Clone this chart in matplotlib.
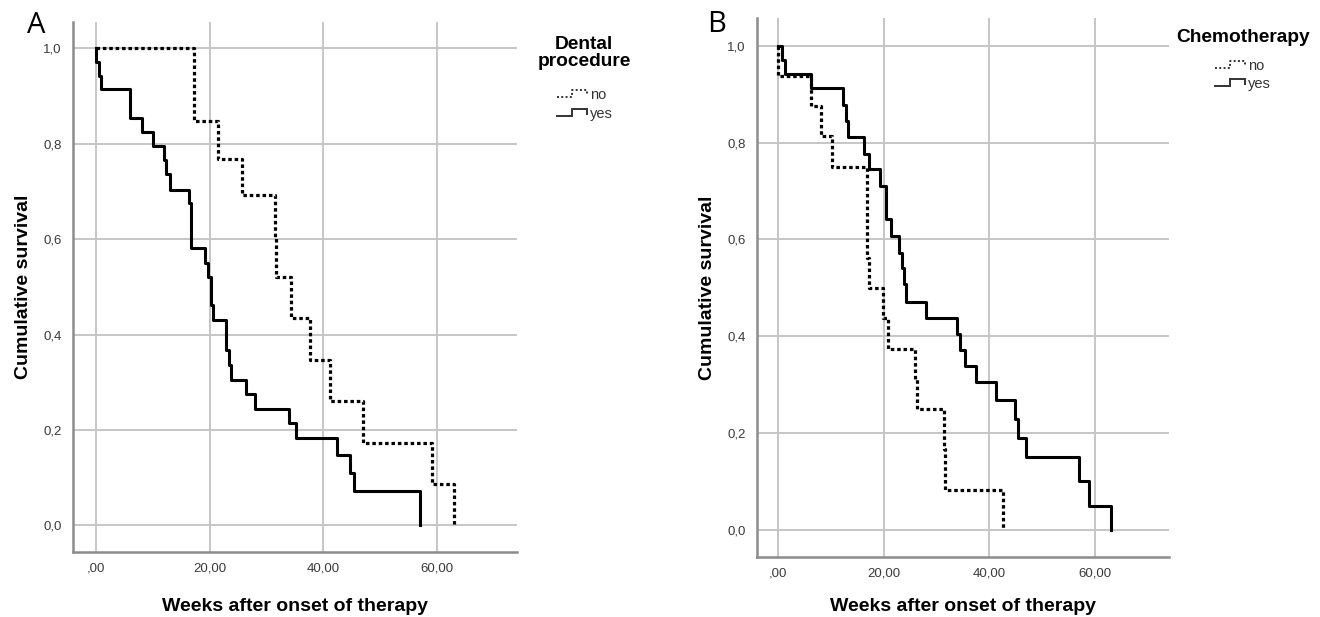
import matplotlib
matplotlib.use("Agg")
import matplotlib.pyplot as plt
from matplotlib.lines import Line2D
from matplotlib.legend_handler import HandlerBase

# ---------------- data ----------------
x_ticks = [0, 20, 40, 60]
x_tick_labels = [",00", "20,00", "40,00", "60,00"]
y_ticks = [0.0, 0.2, 0.4, 0.6, 0.8, 1.0]
y_tick_labels = ["0,0", "0,2", "0,4", "0,6", "0,8", "1,0"]

# Panel A: Dental procedure
a_no_weeks = [0, 17.2, 21.4, 25.7, 31.4, 31.6, 34.3, 37.7, 41.2, 46.9, 59.0, 63.0]
a_no_surv = [1.0, 0.848, 0.769, 0.692, 0.602, 0.520, 0.434, 0.347, 0.261, 0.173, 0.087, 0.0]
a_yes_weeks = [0, 0, 0.6, 0.9, 6.1, 8.1, 10.1, 12.0, 12.4, 13.0, 16.4, 16.8, 19.1, 19.7,
               20.2, 20.6, 22.9, 23.4, 23.8, 26.4, 28.0, 33.9, 35.1, 42.3, 44.7, 45.3, 57.0]
a_yes_surv = [1.0, 0.971, 0.943, 0.914, 0.855, 0.825, 0.796, 0.766, 0.737, 0.704, 0.675,
              0.582, 0.551, 0.521, 0.462, 0.430, 0.368, 0.337, 0.306, 0.275, 0.245, 0.215,
              0.184, 0.147, 0.110, 0.073, 0.0]

# Panel B: Chemotherapy
b_no_weeks = [0, 0, 6.3, 8.1, 10.2, 16.8, 17.3, 19.8, 20.9, 25.9, 26.3, 31.4, 31.7, 42.5]
b_no_surv = [1.0, 0.9375, 0.875, 0.8125, 0.75, 0.5625, 0.5, 0.4375, 0.375, 0.3125, 0.25,
             0.167, 0.083, 0.0]
b_yes_weeks = [0, 0.75, 1.4, 6.3, 12.4, 12.8, 13.3, 16.3, 17.3, 19.3, 20.4, 21.3, 22.9, 23.4,
               23.8, 24.2, 28.0, 33.9, 34.4, 35.3, 37.5, 41.2, 44.8, 45.4, 47.0, 57.0, 58.9, 63.1]
b_yes_surv = [1.0, 0.971, 0.942, 0.913, 0.878, 0.844, 0.811, 0.777, 0.745, 0.710, 0.642,
              0.607, 0.573, 0.542, 0.508, 0.472, 0.439, 0.405, 0.372, 0.338, 0.305, 0.268,
              0.230, 0.191, 0.152, 0.101, 0.051, 0.0]

group_labels = ["no", "yes"]
legend_titles = ["Dental\nprocedure", "Chemotherapy"]
panel_letters = ["A", "B"]
x_label = "Weeks after onset of therapy"
y_label = "Cumulative survival"

# ---------------- style ----------------
FONT = "Liberation Sans"
plt.rcParams["font.family"] = [FONT, "DejaVu Sans"]
DOT = (0, (1.1, 0.9))
GRID = "#c6c6c6"
SPINE = "#8c8c8c"
TICKC = "#3a3a3a"


class StepHandler(HandlerBase):
    def __init__(self, dotted):
        super().__init__()
        self.dotted = dotted

    def create_artists(self, legend, orig_handle, xdescent, ydescent, width, height,
                       fontsize, trans):
        x0 = -xdescent
        y0 = -ydescent + height * 0.2
        h = height * 0.7
        xs = [x0, x0 + 0.5 * width, x0 + 0.5 * width, x0 + width, x0 + width]
        ys = [y0, y0, y0 + h, y0 + h, y0 + 0.3 * h]
        ln = Line2D(xs, ys, color="#333333", lw=1.4,
                    linestyle=(0, (1.0, 1.2)) if self.dotted else "-",
                    transform=trans, solid_joinstyle="miter")
        return [ln]


fig = plt.figure(figsize=(13.2, 6.17), dpi=100)
axA = fig.add_axes([0.0553, 0.1058, 0.3364, 0.859])
axB = fig.add_axes([0.5733, 0.0972, 0.3124, 0.873])


def style_axes(ax, xlabelpad):
    ax.set_xlim(-4, 74)
    ax.set_ylim(-0.055, 1.056)
    ax.set_xticks(x_ticks)
    ax.set_xticklabels(x_tick_labels)
    ax.set_yticks(y_ticks)
    ax.set_yticklabels(y_tick_labels)
    ax.tick_params(length=0, labelsize=9.5, labelcolor=TICKC)
    ax.tick_params(axis="x", pad=7.5)
    ax.tick_params(axis="y", pad=8)
    ax.grid(True, color=GRID, lw=1.4)
    ax.set_axisbelow(True)
    for s in ["top", "right"]:
        ax.spines[s].set_visible(False)
    for s in ["left", "bottom"]:
        ax.spines[s].set_color(SPINE)
        ax.spines[s].set_linewidth(1.8)
    ax.set_xlabel(x_label, fontsize=14, fontweight="bold", labelpad=xlabelpad)
    ax.set_ylabel(y_label, fontsize=14, fontweight="bold", labelpad=8)


panels = [
    (axA, a_no_weeks, a_no_surv, a_yes_weeks, a_yes_surv,
     (0.4424, 1 - 53 / 617), (585 / 1320, 1 - 104.5 / 617), (27 / 1320, 1 - 33 / 617), 17),
    (axB, b_no_weeks, b_no_surv, b_yes_weeks, b_yes_surv,
     (1243 / 1320, 1 - 37 / 617), (1243 / 1320, 1 - 75 / 617), (707 / 1320, 1 - 32 / 617), 13.5),
]

for i, (ax, no_w, no_s, yes_w, yes_s, title_xy, leg_xy, letter_xy, xlp) in enumerate(panels):
    style_axes(ax, xlp)
    h_no, = ax.step(no_w, no_s, where="post", color="black", lw=2.3, linestyle=DOT)
    h_yes, = ax.step(yes_w, yes_s, where="post", color="black", lw=2.2)
    fig.text(title_xy[0], title_xy[1], legend_titles[i], fontsize=13.8, fontweight="bold",
             ha="center", va="center", multialignment="center", linespacing=1.05)
    leg = fig.legend([h_no, h_yes], group_labels, loc="center",
                     bbox_to_anchor=leg_xy, frameon=False, borderpad=0,
                     fontsize=10.5, handlelength=2.05, handletextpad=0.25,
                     labelspacing=0.3,
                     handler_map={h_no: StepHandler(True), h_yes: StepHandler(False)})
    for t in leg.get_texts():
        t.set_color("#333333")
    fig.text(letter_xy[0], letter_xy[1], panel_letters[i], fontsize=21, family="Open Sans",
             va="baseline", ha="left")

fig.savefig("out.png", dpi=100)
